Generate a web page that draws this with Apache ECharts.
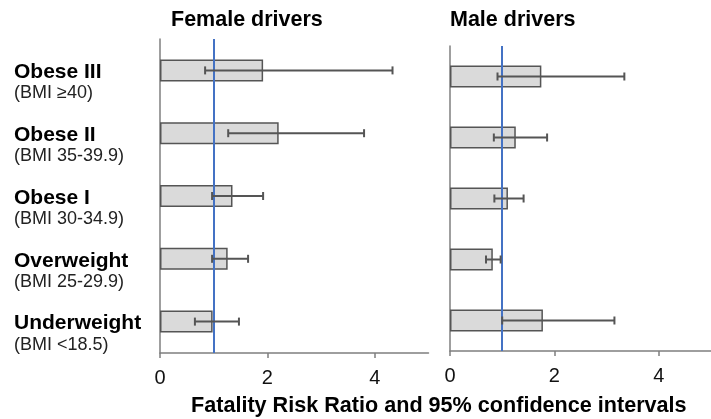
<!DOCTYPE html>
<html>
<head>
<meta charset="utf-8">
<script src="https://cdn.jsdelivr.net/npm/echarts@6/dist/echarts.min.js"></script>
<style>
  html, body { margin: 0; padding: 0; background: #fff; }
  #chart { width: 711px; height: 419px; }
</style>
</head>
<body>
<div id="chart"></div>
<script>
// Categories listed bottom to top (ECharts category y axis starts at the bottom)
const categories = ['Underweight', 'Overweight', 'Obese I', 'Obese II', 'Obese III'];
const bmiRanges = ['(BMI <18.5)', '(BMI 25-29.9)', '(BMI 30-34.9)', '(BMI 35-39.9)', '(BMI \u226540)'];

const femaleRR   = [0.98, 1.26, 1.35, 2.21, 1.92];
const femaleLow  = [0.65, 0.97, 0.97, 1.27, 0.84];
const femaleHigh = [1.47, 1.64, 1.92, 3.80, 4.33];

const maleRR   = [1.78, 0.82, 1.11, 1.26, 1.75];
const maleLow  = [1.00, 0.69, 0.85, 0.84, 0.91];
const maleHigh = [3.15, 0.97, 1.41, 1.86, 3.34];

const xTicks = [0, 2, 4];
const referenceRR = 1;

const panelTitles = ['Female drivers', 'Male drivers'];
const xAxisTitle = 'Fatality Risk Ratio and 95% confidence intervals';

const FONT = '"Liberation Sans", Arial, sans-serif';

const chart = echarts.init(document.getElementById('chart'), null, { renderer: 'canvas' });

function errData(low, high) {
  return categories.map((c, i) => [i, low[i], high[i]]);
}

function renderErr(params, api) {
  const idx = api.value(0);
  const p1 = api.coord([api.value(1), idx]);
  const p2 = api.coord([api.value(2), idx]);
  const cap = 4;
  const style = { stroke: '#555', lineWidth: 2 };
  return {
    type: 'group',
    children: [
      { type: 'line', shape: { x1: p1[0], y1: p1[1], x2: p2[0], y2: p2[1] }, style },
      { type: 'line', shape: { x1: p1[0], y1: p1[1] - cap, x2: p1[0], y2: p1[1] + cap }, style },
      { type: 'line', shape: { x1: p2[0], y1: p2[1] - cap, x2: p2[0], y2: p2[1] + cap }, style }
    ]
  };
}

function xAxisCfg(gridIndex) {
  return {
    type: 'value', gridIndex, min: 0, max: 5,
    axisLine: { show: true, lineStyle: { color: '#7f7f7f', width: 1.5 } },
    axisTick: { show: true, length: 5, customValues: xTicks, lineStyle: { color: '#7f7f7f', width: 1.5 } },
    axisLabel: { customValues: xTicks, margin: 15, fontSize: 20, color: '#111', fontFamily: FONT },
    splitLine: { show: false }
  };
}

function yAxisCfg(gridIndex, showLabels) {
  return {
    type: 'category', gridIndex, data: categories,
    axisLine: { show: true, lineStyle: { color: '#7f7f7f', width: 1.5 } },
    axisTick: { show: false },
    axisLabel: showLabels ? {
      align: 'left', margin: 146, padding: [24, 0, 0, 0],
      formatter: (v, i) => '{a|' + v + '}\n{b|' + bmiRanges[i] + '}',
      rich: {
        a: { fontSize: 21, fontWeight: 'bold', color: '#000', lineHeight: 22, fontFamily: FONT },
        b: { fontSize: 18, color: '#222', lineHeight: 20, fontFamily: FONT }
      }
    } : { show: false }
  };
}

function barSeries(idx, values) {
  return {
    type: 'bar', xAxisIndex: idx, yAxisIndex: idx, data: values, barWidth: 22,
    itemStyle: { color: '#dadada', borderColor: '#555', borderWidth: 1.5 },
    silent: true,
    markLine: {
      silent: true, symbol: 'none', label: { show: false },
      lineStyle: { color: '#4472C4', width: 2, type: 'solid' },
      data: [{ xAxis: referenceRR }],
      z: 5
    }
  };
}

function errSeries(idx, low, high) {
  return {
    type: 'custom', xAxisIndex: idx, yAxisIndex: idx,
    data: errData(low, high),
    encode: { y: 0, x: [1, 2] },
    renderItem: renderErr, z: 10, silent: true
  };
}

const option = {
  animation: false,
  backgroundColor: '#fff',
  title: [
    { text: panelTitles[0], left: 171, top: 9, padding: 0,
      textStyle: { fontSize: 21.5, fontWeight: 'bold', color: '#000', fontFamily: FONT } },
    { text: panelTitles[1], left: 450, top: 9, padding: 0,
      textStyle: { fontSize: 21.5, fontWeight: 'bold', color: '#000', fontFamily: FONT } }
  ],
  grid: [
    { left: 160, top: 39, width: 268.5, height: 314, containLabel: false },
    { left: 450, top: 46, width: 269, height: 305, containLabel: false }
  ],
  xAxis: [xAxisCfg(0), xAxisCfg(1)],
  yAxis: [yAxisCfg(0, true), yAxisCfg(1, false)],
  series: [
    barSeries(0, femaleRR),
    errSeries(0, femaleLow, femaleHigh),
    barSeries(1, maleRR),
    errSeries(1, maleLow, maleHigh)
  ],
  graphic: [
    { type: 'text', left: 191, top: 395, z: 100,
      style: { text: xAxisTitle, fontSize: 21.6, fontWeight: 'bold', fill: '#000', fontFamily: FONT } }
  ]
};

chart.setOption(option);
</script>
</body>
</html>
